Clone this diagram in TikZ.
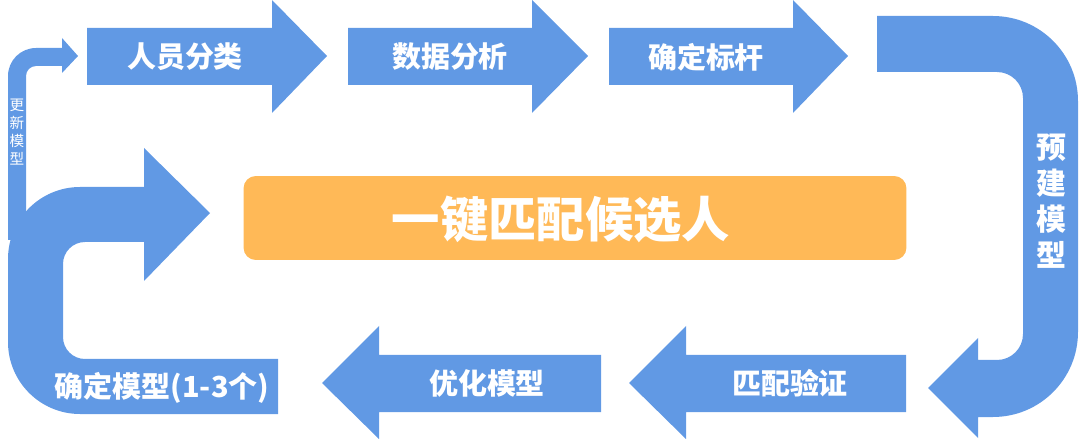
\documentclass[tikz,border=0pt]{standalone}
\usepackage{fontspec}
\setmainfont{Noto Sans CJK SC}
\usepackage{tikz}
\usetikzlibrary{positioning}

\definecolor{flowblue}{HTML}{6199E4}
\definecolor{keyorange}{HTML}{FFB957}

\begin{document}
\begin{tikzpicture}[
    x=0.02cm, y=-0.02cm,
    band/.style={fill=flowblue},
    stagelabel/.style={text=white, font=\fontsize{16.5}{18}\selectfont\bfseries},
    sidelabel/.style={text=white, align=center, font=\fontsize{17}{20.4}\selectfont\bfseries},
    keybox/.style={
        rectangle, rounded corners=7pt, fill=keyorange,
        minimum width=13.26cm, minimum height=1.68cm
    },
    keytext/.style={text=white, font=\fontsize{27.5}{30}\selectfont\bfseries}
]
    \useasboundingbox (0,0) rectangle (1080,439);

    % top row, left to right
    \fill[band] (87,28) -- (272,28) -- (272,0) -- (327,56) -- (272,113) -- (272,85) -- (87,85) -- cycle;
    \fill[band] (348,28) -- (532,28) -- (532,0) -- (588,56) -- (532,113) -- (532,85) -- (348,85) -- cycle;
    \fill[band] (609,28) -- (793,28) -- (793,0) -- (848,56) -- (793,113) -- (793,85) -- (609,85) -- cycle;

    % right turn
    \fill[band] (877,16) -- (993,16) arc[start angle=-90, end angle=0, radius=85]
        -- (1078,332) arc[start angle=0, end angle=90, radius=85]
        -- (978,417) -- (978,438) -- (928,388) -- (978,338) -- (978,360)
        -- (997,360) arc[start angle=90, end angle=0, radius=26]
        -- (1023,98) arc[start angle=0, end angle=-90, radius=26]
        -- (877,72) -- cycle;

    % bottom row, right to left
    \fill[band] (906,355) -- (686,355) -- (686,326) -- (629,383) -- (686,439) -- (686,412) -- (906,412) -- cycle;
    \fill[band] (601,355) -- (379,355) -- (379,326) -- (322,383) -- (379,439) -- (379,412) -- (601,412) -- cycle;

    % update loop
    \fill[band] (8,240) -- (8,76) arc[start angle=180, end angle=270, radius=28]
        -- (62,48) -- (62,38) -- (78,56) -- (62,73) -- (62,66)
        -- (36,66) arc[start angle=270, end angle=180, radius=10]
        -- (26,240) -- cycle;

    % left turn into the centre
    \fill[band] (210,213) -- (144,281) -- (144,242)
        -- (85,242) arc[start angle=-90, end angle=-180, radius=22]
        -- (63,337) arc[start angle=180, end angle=90, radius=22]
        -- (278,359) -- (278,414)
        -- (80,414) arc[start angle=90, end angle=180, radius=72]
        -- (8,259) arc[start angle=180, end angle=270, radius=72]
        -- (144,187) -- (144,148) -- cycle;

    \node[keybox]  (match) at (575,218) {};
    \node[keytext] (matchtext) at (561,219) {一键匹配候选人};

    \node[stagelabel] (sort)   at (185,57)  {人员分类};
    \node[stagelabel] (anal)   at (450,57)  {数据分析};
    \node[stagelabel] (bench)  at (706,57)  {确定标杆};
    \node[sidelabel]  (build)  at (1051,201) {预\\建\\模\\型};
    \node[stagelabel] (verify) at (790,383) {匹配验证};
    \node[stagelabel] (tune)   at (487,383) {优化模型};
    \node[stagelabel] (fix)    at (162,388) {确定模型(1-3个)};
    \node[text=white, align=center, inner sep=0pt,
          font=\fontsize{8.3}{10.2}\selectfont] (update) at (17,132) {更\\新\\模\\型};
\end{tikzpicture}
\end{document}
